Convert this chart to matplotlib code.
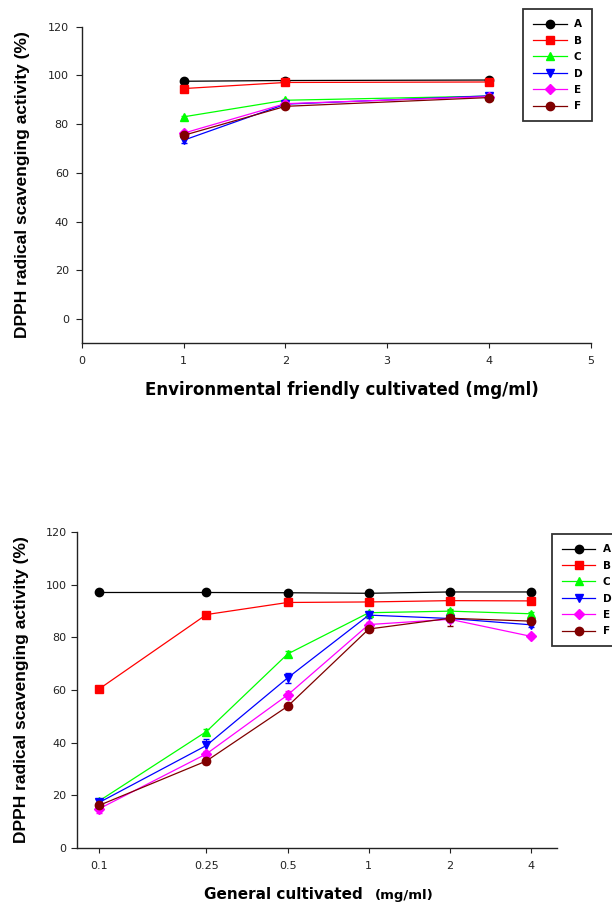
import matplotlib
matplotlib.use('Agg')
import matplotlib.pyplot as plt
from matplotlib.ticker import NullLocator

# Environmental friendly cultivated (top panel)
env_conc = [1, 2, 4]
env_vals = {
    'A': [97.6, 97.9, 98.1],
    'B': [94.6, 97.1, 97.3],
    'C': [83.0, 89.8, 91.5],
    'D': [73.4, 88.2, 91.6],
    'E': [76.3, 88.4, 91.3],
    'F': [75.4, 87.3, 90.9],
}
env_err = {
    'A': [0.3, 0.3, 0.3],
    'B': [0.4, 0.3, 0.3],
    'C': [0.5, 0.5, 0.4],
    'D': [1.2, 0.6, 0.5],
    'E': [0.6, 0.5, 0.4],
    'F': [0.6, 0.5, 0.4],
}

# General cultivated (bottom panel)
gen_conc = [0.1, 0.25, 0.5, 1, 2, 4]
gen_ticklabels = ['0.1', '0.25', '0.5', '1', '2', '4']
gen_vals = {
    'A': [97.1, 97.1, 97.0, 96.8, 97.3, 97.3],
    'B': [60.4, 88.7, 93.3, 93.5, 94.0, 93.9],
    'C': [17.8, 44.2, 73.7, 89.4, 90.0, 89.0],
    'D': [17.2, 38.9, 64.6, 88.5, 87.2, 84.8],
    'E': [14.8, 35.7, 58.1, 84.9, 86.9, 80.4],
    'F': [16.1, 33.0, 53.8, 83.2, 87.3, 86.2],
}
gen_err = {
    'A': [0.3, 0.3, 0.3, 0.3, 0.3, 0.3],
    'B': [0.5, 0.6, 0.5, 0.4, 0.4, 0.4],
    'C': [0.6, 0.8, 1.0, 0.8, 1.0, 0.8],
    'D': [1.5, 2.6, 2.0, 1.0, 1.2, 1.0],
    'E': [1.6, 1.2, 1.5, 1.0, 1.0, 0.8],
    'F': [1.0, 1.0, 1.0, 1.0, 3.0, 1.0],
}

series = ['A', 'B', 'C', 'D', 'E', 'F']
colors = {'A': 'black', 'B': '#ff0000', 'C': '#00ff00', 'D': '#0000ff', 'E': '#ff00ff', 'F': '#800000'}
markers = {'A': 'o', 'B': 's', 'C': '^', 'D': 'v', 'E': 'D', 'F': 'o'}
msize = {'A': 6, 'B': 5.5, 'C': 6, 'D': 6, 'E': 5, 'F': 6}

W, H = 612, 906
fig = plt.figure(figsize=(W / 100, H / 100), dpi=100)

ylab = 'DPPH radical scavenging activity (%)'


def px_axes(left, top, right, bottom):
    return fig.add_axes([left / W, 1 - bottom / H, (right - left) / W, (bottom - top) / H])


def style(ax, ypad):
    ax.spines['top'].set_visible(False)
    ax.spines['right'].set_visible(False)
    for s in ('left', 'bottom'):
        ax.spines[s].set_linewidth(1.0)
        ax.spines[s].set_color('#222222')
    ax.tick_params(axis='y', direction='out', length=4, width=0.8, pad=ypad,
                   labelsize=8, labelcolor='#222222', color='#222222')
    ax.tick_params(axis='x', direction='out', length=3.5, width=0.8, pad=6,
                   labelsize=8, labelcolor='#222222', color='#222222')
    for lab in ax.get_xticklabels() + ax.get_yticklabels():
        lab.set_fontfamily('DejaVu Sans')
    ax.set_ylabel(ylab, fontsize=12.5, fontweight='bold', family='Liberation Sans')


def draw(ax, conc, vals, errs):
    handles = []
    for s in series:
        cont = ax.errorbar(conc, vals[s], yerr=errs[s], color=colors[s], marker=markers[s],
                           markersize=msize[s], linewidth=0.9, elinewidth=0.8, capsize=2.5)
        cont[0].set_label(s)
        handles.append(cont[0])
    return handles


def add_legend(ax, handles, x, y):
    leg = ax.legend(handles=handles, loc='upper left', bbox_to_anchor=(x / W, 1 - y / H),
                    bbox_transform=fig.transFigure, borderaxespad=0,
                    prop={'family': 'DejaVu Sans', 'weight': 'bold', 'size': 7.5},
                    handlelength=3.2, handletextpad=0.7, labelspacing=0.62,
                    borderpad=0.95, numpoints=1, fancybox=False, framealpha=1)
    leg.get_frame().set_edgecolor('#333333')
    leg.get_frame().set_linewidth(1.3)
    return leg


# ---- top panel ----
ax1 = px_axes(82, 26.7, 590.5, 343.3)
h1 = draw(ax1, env_conc, env_vals, env_err)
ax1.set_xlim(0, 5)
ax1.set_ylim(-10, 120)
ax1.set_xticks([0, 1, 2, 3, 4, 5])
ax1.set_yticks([0, 20, 40, 60, 80, 100, 120])
style(ax1, 5.5)
ax1.yaxis.set_label_coords(-0.102, 0.5)
ax1.set_xlabel('Environmental friendly cultivated (mg/ml)', fontsize=12,
               fontweight='bold', family='DejaVu Sans')
ax1.xaxis.set_label_coords(0.511, -0.118)
add_legend(ax1, h1, 523.3, 9.3)

# ---- bottom panel ----
ax2 = px_axes(77.3, 532.3, 557.3, 847.7)
h2 = draw(ax2, gen_conc, gen_vals, gen_err)
ax2.set_xscale('log', base=2)
ax2.set_xlim(0.083, 5.0)
ax2.set_ylim(0, 120)
ax2.set_xticks(gen_conc)
ax2.set_xticklabels(gen_ticklabels)
ax2.xaxis.set_minor_locator(NullLocator())
ax2.set_yticks([0, 20, 40, 60, 80, 100, 120])
style(ax2, 3.6)
ax2.yaxis.set_label_coords(-0.101, 0.5)
fig.text(204 / W, 1 - 899 / H, 'General cultivated', fontsize=11, fontweight='bold',
         family='DejaVu Sans', ha='left', va='baseline')
fig.text(375 / W, 1 - 899 / H, '(mg/ml)', fontsize=9.5, fontweight='bold',
         family='DejaVu Sans', ha='left', va='baseline')
add_legend(ax2, h2, 552, 534.3)

plt.savefig('out.png', dpi=100)
